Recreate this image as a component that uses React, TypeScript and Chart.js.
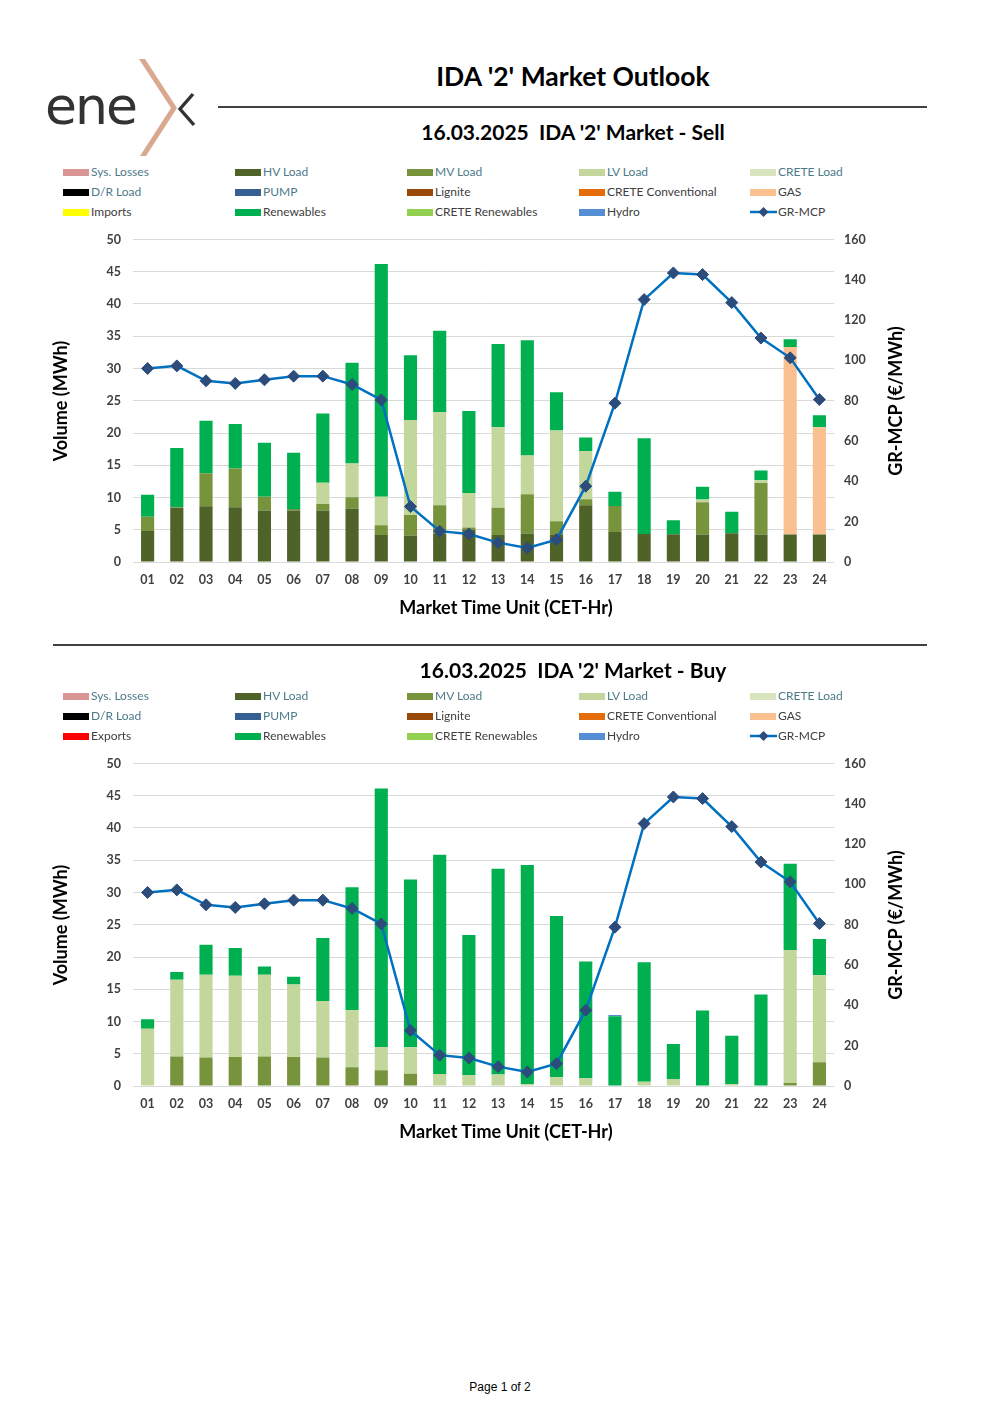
import React, { useEffect, useRef } from 'react';
import { Chart, registerables } from 'chart.js';

Chart.register(...registerables);

// ---------- DATA ----------
const HOURS = ['01', '02', '03', '04', '05', '06', '07', '08', '09', '10', '11', '12', '13', '14', '15', '16', '17', '18', '19', '20', '21', '22', '23', '24'];

const LEFT_TICKS = [0, 5, 10, 15, 20, 25, 30, 35, 40, 45, 50];
const RIGHT_TICKS = [0, 20, 40, 60, 80, 100, 120, 140, 160];

const GR_MCP = [96.0, 97.3, 89.9, 88.6, 90.4, 92.2, 92.2, 88.1, 80.4, 27.5, 15.3, 13.9, 9.6, 7.0, 11.1, 37.6, 78.8, 130.2, 143.4, 142.6, 128.7, 111.1, 101.3, 80.6];

// Sell side
const SELL_HV = [4.8, 8.4, 8.65, 8.5, 8.0, 8.0, 8.0, 8.3, 4.2, 4.1, 4.4, 5.0, 4.2, 4.4, 4.2, 8.8, 4.66, 4.35, 4.3, 4.25, 4.46, 4.25, 4.25, 4.25];
const SELL_MV = [2.2, 0.1, 5.1, 6.0, 2.1, 0.2, 1.0, 1.75, 1.5, 3.2, 4.4, 0.35, 4.2, 6.1, 2.1, 0.94, 4.04, 0, 0, 5.0, 0, 8.0, 0, 0];
const SELL_LV = [0, 0, 0, 0, 0, 0, 3.27, 5.23, 4.4, 14.7, 14.4, 5.35, 12.5, 6.0, 14.1, 7.46, 0, 0, 0, 0.43, 0, 0.42, 0, 0];
const SELL_GAS = [0, 0, 0, 0, 0, 0, 0, 0, 0, 0, 0, 0, 0, 0, 0, 0, 0, 0, 0, 0, 0, 0, 29.1, 16.65];
const SELL_REN = [3.42, 9.17, 8.14, 6.9, 8.4, 8.74, 10.77, 15.6, 36.1, 10.05, 12.65, 12.7, 12.9, 17.88, 5.9, 2.1, 2.2, 14.85, 2.18, 2.0, 3.34, 1.5, 1.19, 1.85];

// Buy side
const BUY_MV = [0, 4.56, 4.4, 4.5, 4.56, 4.5, 4.4, 2.9, 2.44, 1.9, 0, 0, 0, 0, 0, 0, 0, 0, 0, 0, 0, 0, 0.47, 3.68];
const BUY_LV = [8.86, 11.9, 12.85, 12.6, 12.7, 11.25, 8.76, 8.9, 3.6, 4.1, 1.87, 1.7, 1.8, 0.26, 1.35, 1.2, 0, 0.67, 1.1, 0, 0.3, 0, 20.6, 13.5];
const BUY_REN = [1.5, 1.2, 4.65, 4.3, 1.25, 1.2, 9.8, 19.0, 40.1, 26.0, 34.0, 21.7, 31.9, 34.0, 25.0, 18.1, 10.8, 18.5, 5.4, 11.7, 7.5, 14.2, 13.4, 5.6];
const BUY_HYDRO = [0, 0, 0, 0, 0, 0, 0, 0, 0, 0, 0, 0, 0, 0, 0, 0, 0.2, 0, 0, 0, 0, 0, 0, 0];

// Series (legend order, row by row) and colours
const SELL_SERIES = ['Sys. Losses', 'HV Load', 'MV Load', 'LV Load', 'CRETE Load', 'D/R Load', 'PUMP', 'Lignite', 'CRETE Conventional', 'GAS', 'Imports', 'Renewables', 'CRETE Renewables', 'Hydro'];
const BUY_SERIES = ['Sys. Losses', 'HV Load', 'MV Load', 'LV Load', 'CRETE Load', 'D/R Load', 'PUMP', 'Lignite', 'CRETE Conventional', 'GAS', 'Exports', 'Renewables', 'CRETE Renewables', 'Hydro'];

const COLORS: Record<string, string> = {
  'Sys. Losses': '#DA9694',
  'HV Load': '#4F6228',
  'MV Load': '#77933C',
  'LV Load': '#C3D69B',
  'CRETE Load': '#D7E4BD',
  'D/R Load': '#000000',
  'PUMP': '#376092',
  'Lignite': '#984807',
  'CRETE Conventional': '#E46C0A',
  'GAS': '#FAC090',
  'Imports': '#FFFF00',
  'Exports': '#FF0000',
  'Renewables': '#00B050',
  'CRETE Renewables': '#92D050',
  'Hydro': '#558ED5',
};

const SELL_VALUES: Record<string, number[]> = {
  'HV Load': SELL_HV,
  'MV Load': SELL_MV,
  'LV Load': SELL_LV,
  'GAS': SELL_GAS,
  'Renewables': SELL_REN,
};

const BUY_VALUES: Record<string, number[]> = {
  'MV Load': BUY_MV,
  'LV Load': BUY_LV,
  'Renewables': BUY_REN,
  'Hydro': BUY_HYDRO,
};

const TEAL_LABELS = ['Sys. Losses', 'HV Load', 'MV Load', 'LV Load', 'CRETE Load', 'D/R Load', 'PUMP'];

const LINE_COLOR = '#0070C0';
const MARKER_COLOR = '#2C4C7C';
const FONT = 'Lato, "DejaVu Sans", sans-serif';

// ---------- COMPONENTS ----------
function MarketChart({ series, values, top }: { series: string[]; values: Record<string, number[]>; top: number }) {
  const ref = useRef<HTMLCanvasElement | null>(null);
  useEffect(() => {
    if (!ref.current) return;
    const zeros = HOURS.map(() => 0);
    const barSets: any[] = series.map((name) => ({
      type: 'bar',
      label: name,
      data: values[name] || zeros,
      backgroundColor: COLORS[name],
      borderWidth: 0,
      stack: 'vol',
      yAxisID: 'y',
      order: 1,
      barPercentage: 0.45,
      categoryPercentage: 1,
    }));
    const lineSet: any = {
      type: 'line',
      label: 'GR-MCP',
      data: GR_MCP,
      yAxisID: 'y1',
      borderColor: LINE_COLOR,
      borderWidth: 2.5,
      pointStyle: 'rectRot',
      pointRadius: 6,
      pointBackgroundColor: MARKER_COLOR,
      pointBorderColor: MARKER_COLOR,
      pointBorderWidth: 1,
      tension: 0,
      order: 0,
    };
    const tickFont = { family: FONT, size: 12.5, weight: 'bold' as const };
    const chart = new Chart(ref.current, {
      type: 'bar',
      data: { labels: HOURS, datasets: [...barSets, lineSet] },
      options: {
        animation: false,
        responsive: false,
        maintainAspectRatio: false,
        layout: { padding: { top: 0, left: 0, right: 0, bottom: 0 } },
        plugins: { legend: { display: false }, tooltip: { enabled: false } },
        scales: {
          x: {
            stacked: true,
            grid: { display: false, drawTicks: false },
            border: { display: false },
            ticks: { font: tickFont, color: '#404040', padding: 10, maxRotation: 0, autoSkip: false },
            afterFit: (s: any) => { s.height = 58; },
          },
          y: {
            position: 'left',
            stacked: true,
            min: LEFT_TICKS[0],
            max: LEFT_TICKS[LEFT_TICKS.length - 1],
            afterBuildTicks: (s: any) => { s.ticks = LEFT_TICKS.map((v) => ({ value: v })); },
            ticks: { font: tickFont, color: '#404040', padding: 12 },
            grid: { color: '#D9D9D9', lineWidth: 1, drawTicks: false },
            border: { display: false },
            afterFit: (s: any) => { s.width = 133; },
          },
          y1: {
            position: 'right',
            min: RIGHT_TICKS[0],
            max: RIGHT_TICKS[RIGHT_TICKS.length - 1],
            afterBuildTicks: (s: any) => { s.ticks = RIGHT_TICKS.map((v) => ({ value: v })); },
            ticks: { font: tickFont, color: '#404040', padding: 10 },
            grid: { display: false, drawTicks: false },
            border: { display: false },
            afterFit: (s: any) => { s.width = 166; },
          },
        },
      } as any,
    });
    return () => chart.destroy();
  }, [series, values]);
  return (
    <canvas
      ref={ref}
      width={1000}
      height={400}
      style={{ position: 'absolute', left: 0, top, width: 1000, height: 400 }}
    />
  );
}

function Text({ x, y, children, size, weight = 'normal', color = '#000', align = 'center', family = FONT, rotate = 0 }: any) {
  const w = 700;
  const left = align === 'center' ? x - w / 2 : x;
  return (
    <div
      style={{
        position: 'absolute',
        left: rotate ? x - w / 2 : left,
        top: y,
        width: w,
        textAlign: rotate ? 'center' : align,
        fontFamily: family,
        fontSize: size,
        fontWeight: weight,
        color,
        lineHeight: 1,
        whiteSpace: 'pre',
        transform: rotate ? `translateY(-50%) rotate(${rotate}deg)` : 'translateY(-50%)',
      }}
    >
      {children}
    </div>
  );
}

function Legend({ top, series }: { top: number; series: string[] }) {
  const colX = [63, 235, 407, 579, 750];
  const rowY = [0, 20, 40];
  const items = [...series.map((s) => ({ name: s, line: false })), { name: 'GR-MCP', line: true }];
  // layout: 5 columns, items given row by row
  return (
    <>
      {items.map((it, i) => {
        const col = i % 5;
        const row = Math.floor(i / 5);
        const x = colX[col];
        const y = top + rowY[row];
        return (
          <React.Fragment key={it.name}>
            {it.line ? (
              <svg style={{ position: 'absolute', left: x, top: y - 6, width: 28, height: 12 }} viewBox="0 0 28 12">
                <line x1={0} y1={6} x2={27} y2={6} stroke={LINE_COLOR} strokeWidth={2.5} />
                <polygon points="13.5,1 18.5,6 13.5,11 8.5,6" fill={MARKER_COLOR} />
              </svg>
            ) : (
              <div style={{ position: 'absolute', left: x, top: y - 3.5, width: 26, height: 7, background: COLORS[it.name] }} />
            )}
            <Text x={x + 28} y={y} size={12} align="left" color={TEAL_LABELS.includes(it.name) ? '#4D7A89' : '#404040'}>
              {it.name}
            </Text>
          </React.Fragment>
        );
      })}
    </>
  );
}

function Logo() {
  return (
    <svg style={{ position: 'absolute', left: 0, top: 0, width: 220, height: 170 }} viewBox="0 0 220 170">
      <text x={45} y={124} fontFamily='"DejaVu Sans", sans-serif' fontWeight={400} fontSize={52} letterSpacing={-2} fill="#333333">ene</text>
      <polygon points="139,59 145,59 177,108 146,156 140,156 171,108" fill="#D9A98F" />
      <polyline points="193,94 180,109 194,125" fill="none" stroke="#333333" strokeWidth={3.4} />
    </svg>
  );
}

function ChartSection({ offset, subtitleY, subtitle, series, values }: any) {
  return (
    <>
      <Text x={573} y={subtitleY} size={21} weight="bold">{subtitle}</Text>
      <Legend top={172 + offset} series={series} />
      <MarketChart top={220 + offset} series={series} values={values} />
      <Text x={60} y={401 + offset} size={18} weight="bold" rotate={-90}>Volume (MWh)</Text>
      <Text x={895} y={401 + offset} size={18} weight="bold" rotate={-90}>GR-MCP (€/MWh)</Text>
      <Text x={506} y={607 + offset} size={18} weight="bold">Market Time Unit (CET-Hr)</Text>
    </>
  );
}

export default function App() {
  return (
    <div style={{ position: 'absolute', left: 0, top: 0, width: 1000, height: 1415, overflow: 'hidden', background: '#fff' }}>
      <Logo />
      <Text x={573} y={76} size={26.5} weight="bold">IDA '2' Market Outlook</Text>
      <div style={{ position: 'absolute', left: 218, top: 106, width: 709, height: 1.5, background: '#404040' }} />
      <ChartSection offset={0} subtitleY={131} subtitle={"16.03.2025  IDA '2' Market - Sell"} series={SELL_SERIES} values={SELL_VALUES} />
      <div style={{ position: 'absolute', left: 53, top: 644, width: 874, height: 1.5, background: '#404040' }} />
      <ChartSection offset={524} subtitleY={669} subtitle={"16.03.2025  IDA '2' Market - Buy"} series={BUY_SERIES} values={BUY_VALUES} />
      <Text x={500} y={1387} size={12} family='"Liberation Sans", Arial, sans-serif'>Page 1 of 2</Text>
    </div>
  );
}
